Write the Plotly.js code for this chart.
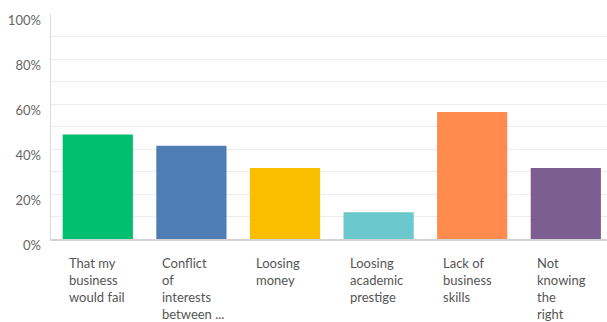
<!DOCTYPE html>
<html>
<head>
<meta charset="utf-8">
<script src="https://cdn.plot.ly/plotly-3.0.1.min.js"></script>
<style>
html,body{margin:0;padding:0;background:#fff;}
#chart{width:607px;height:322px;}
</style>
</head>
<body>
<div id="chart"></div>
<script>
const categories = ["That my business would fail", "Conflict of interests between ...", "Loosing money", "Loosing academic prestige", "Lack of business skills", "Not knowing the right"];
const tickLabels = ["That my<br>business<br>would fail", "Conflict<br>of<br>interests<br>between ...", "Loosing<br>money", "Loosing<br>academic<br>prestige", "Lack of<br>business<br>skills", "Not<br>knowing<br>the<br>right"];
const values = [46.4, 41.5, 31.6, 11.9, 56.5, 31.6];
const colors = ["#00bf6f", "#507cb6", "#f9be00", "#6bc8cd", "#ff8b4f", "#7d5e90"];
const yTickVals = [0, 20, 40, 60, 80, 100];
const yTickText = ["0%", "20%", "40%", "60%", "80%", "100%"];

const trace = {
  type: "bar",
  x: categories,
  y: values,
  marker: {color: colors, line: {width: 0}},
  hoverinfo: "none"
};

const annotations = categories.map((c, i) => ({
  x: c, xref: "x", y: 0, yref: "y",
  text: tickLabels[i],
  showarrow: false,
  xanchor: "left", yanchor: "top", align: "left",
  xshift: -31, yshift: -14,
  font: {family: "Lato, sans-serif", size: 13, color: "#555555"}
}));

const layout = {
  width: 607, height: 322,
  margin: {l: 51, r: 0, t: 14, b: 83, pad: 0},
  paper_bgcolor: "#ffffff", plot_bgcolor: "#ffffff",
  showlegend: false,
  bargap: 0.25,
  xaxis: {
    type: "category",
    range: [-0.5, 5.44],
    showticklabels: false,
    showgrid: false, zeroline: false,
    showline: true, linecolor: "#d3d3d3", linewidth: 2,
    fixedrange: true
  },
  yaxis: {
    range: [0, 100],
    tickmode: "array",
    tickvals: yTickVals,
    ticktext: yTickText,
    showgrid: true, gridcolor: "#ececec", gridwidth: 1,
    minor: {dtick: 10, showgrid: true, gridcolor: "#ececec", gridwidth: 1},
    zeroline: false,
    showline: true, linecolor: "#d9d9d9", linewidth: 1.5,
    ticklabelshift: 6, ticklabelstandoff: 6,
    tickfont: {family: "Lato, sans-serif", size: 13, color: "#666666"},
    fixedrange: true
  },
  annotations: annotations
};

Plotly.newPlot("chart", [trace], layout, {displayModeBar: false, staticPlot: true});
</script>
</body>
</html>
